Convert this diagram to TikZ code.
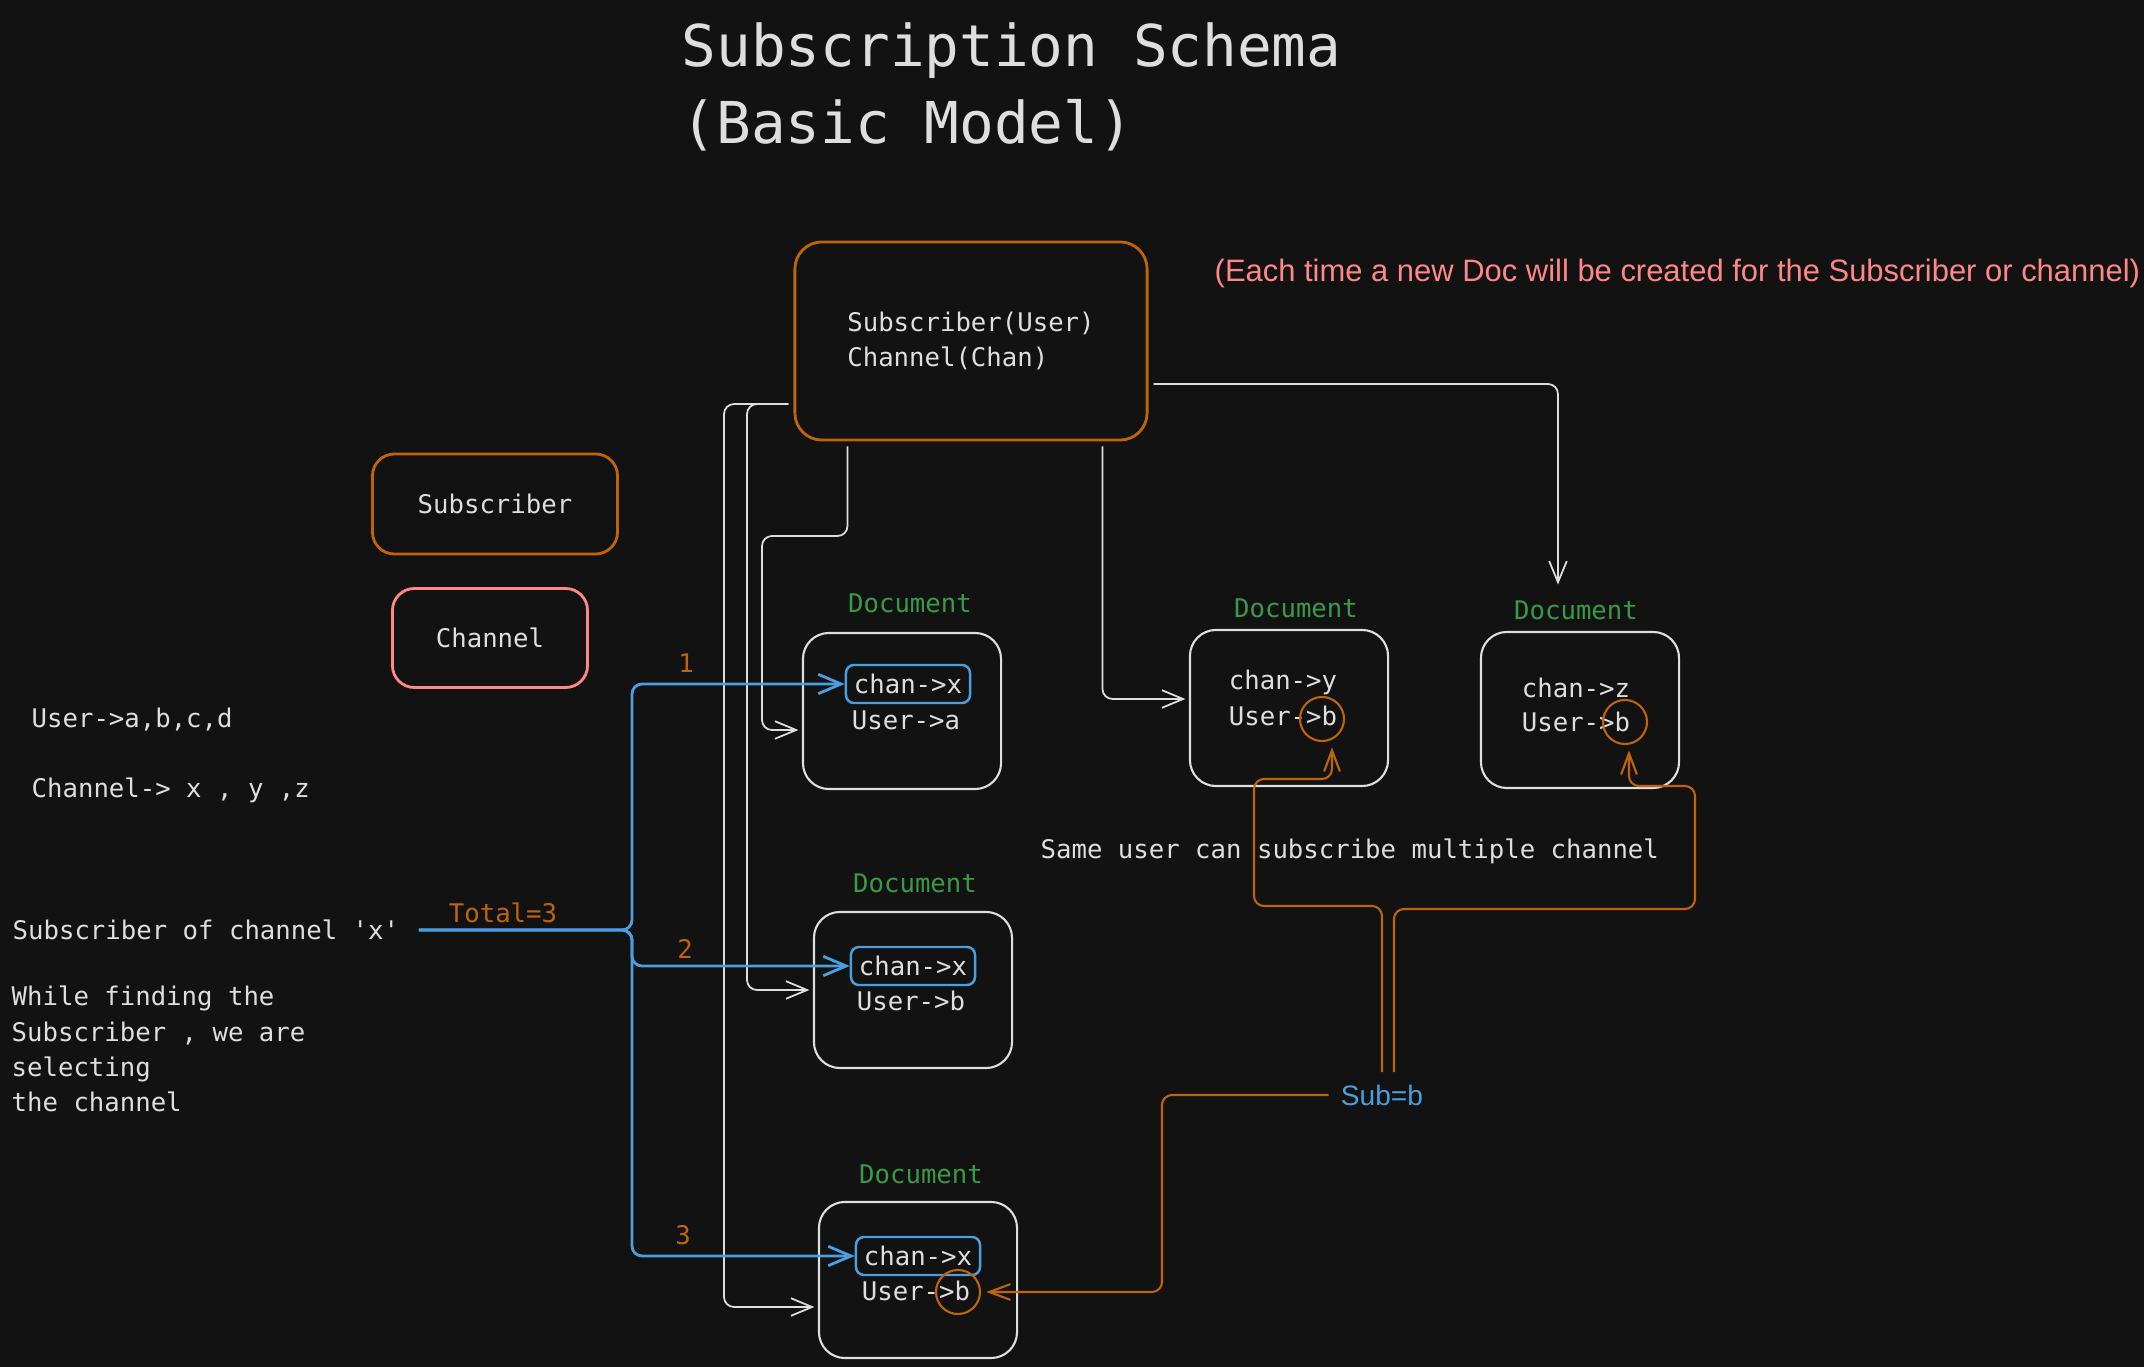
\documentclass[tikz,border=0pt]{standalone}
\usepackage{fontspec}
\setmonofont{DejaVu Sans Mono}
\newfontfamily\handfont{Liberation Sans}
\usetikzlibrary{arrows.meta}
\definecolor{bg}{HTML}{121212}
\definecolor{ink}{HTML}{DEDEDE}
\definecolor{amber}{HTML}{C0640A}
\definecolor{sky}{HTML}{4A9FE0}
\definecolor{leaf}{HTML}{3A9A48}
\definecolor{salmon}{HTML}{FF8787}

\begin{document}
\begin{tikzpicture}[x=0.01cm,y=-0.01cm,
  font=\ttfamily\fontsize{7.3}{10}\selectfont, text=ink,
  box/.style={draw, rounded corners=0.22cm, line width=0.8pt},
  docbox/.style={draw=ink, rounded corners=0.26cm, line width=0.6pt, minimum width=1.98cm, minimum height=1.56cm},
  chanbox/.style={draw=sky, rounded corners=0.08cm, line width=0.7pt, minimum width=1.24cm, minimum height=0.38cm, inner sep=0pt},
  ring/.style={draw=amber, circle, line width=0.6pt, minimum size=0.44cm, inner sep=0pt},
  doclabel/.style={text=leaf},
  plain/.style={anchor=west, inner sep=0pt},
  num/.style={text=amber},
  wire/.style={draw=ink, line width=0.5pt, rounded corners=0.1cm, shorten <=0.05cm, shorten >=1pt, -{Straight Barb[length=6pt,width=5pt]}},
  blueline/.style={draw=sky, line width=0.8pt, rounded corners=0.1cm, shorten <=0.19cm, -{Straight Barb[length=6.5pt,width=5.5pt]}},
  amberline/.style={draw=amber, line width=0.6pt, rounded corners=0.1cm, shorten >=1.5pt, -{Straight Barb[length=6pt,width=4.5pt]}}
]
\fill[bg] (0,0) rectangle (2144,1367);
\useasboundingbox (0,0) rectangle (2144,1367);

\node[plain, align=left, font=\ttfamily\fontsize{16.4}{22}\selectfont] (title) at (681,87) {Subscription Schema\\(Basic Model)};
\node[plain, text=salmon, font=\handfont\fontsize{8.8}{11}\selectfont] (note) at (1214,273) {(Each time a new Doc will be created for the Subscriber or channel)};

\node[box, draw=amber, minimum width=3.52cm, minimum height=1.98cm, rounded corners=0.27cm, align=left] (main) at (971,341) {Subscriber(User)\\Channel(Chan)};
\node[box, draw=amber, minimum width=2.45cm, minimum height=1cm] (subs) at (495,504) {Subscriber};
\node[box, draw=salmon, minimum width=1.95cm, minimum height=0.99cm] (chan) at (490,638) {Channel};

\node[plain] (users) at (31,720) {User->a,b,c,d};
\node[plain] (chans) at (31,790) {Channel-> x , y ,z};
\node[plain] (subx) at (12,930) {Subscriber of channel 'x'};
\node[plain, align=left] (why) at (11,1049) {While finding the\\Subscriber , we are\\selecting\\the channel};
\node[num] (total) at (503,913) {Total=3};
\node[num] (n1) at (686,663) {1};
\node[num] (n2) at (685,949) {2};
\node[num] (n3) at (683,1235) {3};

\node[docbox] (docA) at (902,711) {};
\node[docbox] (docB) at (913,990) {};
\node[docbox] (docC) at (918,1280) {};
\node[docbox] (docD) at (1289,708) {};
\node[docbox] (docE) at (1580,710) {};

\node[doclabel] (labA) at (910,603) {Document};
\node[doclabel] (labB) at (915,883) {Document};
\node[doclabel] (labC) at (921,1174) {Document};
\node[doclabel] (labD) at (1296,608) {Document};
\node[doclabel] (labE) at (1576,610) {Document};

\node[chanbox] (chanA) at (908,684) {chan->x};
\node (userA) at (906,720) {User->a};
\node[chanbox] (chanB) at (913,966) {chan->x};
\node (userB) at (911,1001) {User->b};
\node[chanbox] (chanC) at (918,1256) {chan->x};
\node (userC) at (916,1291) {User->b};
\node[ring] (ringC) at (958,1292) {};
\node (chanY) at (1283,682) {chan->y};
\node (userD) at (1283,716) {User->b};
\node[ring] (ringD) at (1322,719) {};
\node (chanZ) at (1576,688) {chan->z};
\node (userE) at (1576,722) {User->b};
\node[ring] (ringE) at (1625,722) {};

\node[plain] (same) at (1040,851) {Same user can subscribe multiple channel};
\node[text=sky, font=\handfont\fontsize{8}{10}\selectfont] (subb) at (1382,1095) {Sub=b};

\draw[wire] ([xshift=0.54cm]main.south west) |- (762,536) |- ([yshift=-0.19cm]docA.west);
\draw[wire] ([xshift=-0.46cm]main.south east) |- ([yshift=0.09cm]docD.west);
\draw[wire] ([yshift=-0.43cm]main.east) -| ([xshift=-0.18cm]labE.north);
\draw[wire] ([yshift=-0.63cm]main.west) -| (724,1307) -- ([yshift=-0.27cm]docC.west);
\draw[wire] ([yshift=-0.63cm]main.west) -| (747,990) -- (docB.west);

\draw[blueline] (subx.east) -- (632,930) |- (chanA.west);
\draw[blueline] (subx.east) -- (632,930) |- (chanB.west);
\draw[blueline] (subx.east) -- (632,930) |- (chanC.west);

\draw[amberline] (subb.north) |- (1254,906) |- (1332,779) -- ([xshift=0.1cm]ringD.south);
\draw[amberline] ([xshift=0.12cm]subb.north) |- (1695,909) |- (1629,786) -- ([xshift=0.04cm]ringE.south);
\draw[amberline] (subb.west) -| (1162,1292) -- (ringC.east);
\end{tikzpicture}
\end{document}
